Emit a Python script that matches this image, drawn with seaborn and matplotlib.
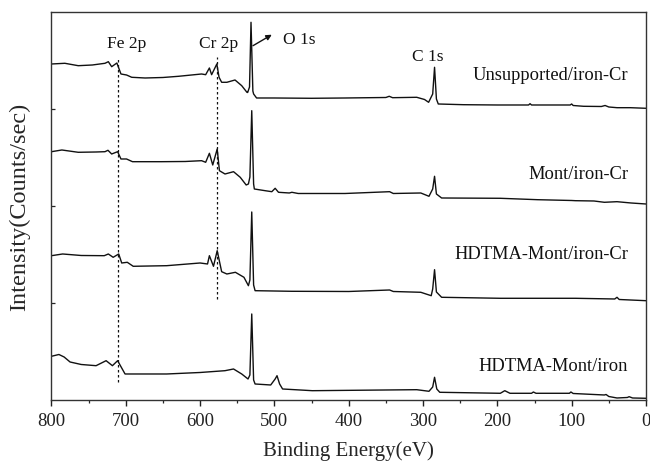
import matplotlib
matplotlib.use("Agg")
import matplotlib.pyplot as plt
from matplotlib.ticker import MultipleLocator, NullFormatter
import pandas as pd
import seaborn as sns

# XPS survey spectra, binding energy (eV) vs stacked intensity (a.u.)
be_unsup = [800, 782, 764, 745, 728, 723.5, 719, 712, 706.5, 699, 692, 674, 650, 629,
            598, 592.5, 587.5, 584.5, 577.5, 574.5, 571, 564, 553, 544, 537, 536, 533.5,
            531.5, 529, 528, 524, 500, 450, 405, 350, 345.5, 341, 308.5, 298, 292.5, 287,
            284.5, 282, 279.5, 246, 200, 158, 156, 154, 102, 100, 98, 84, 60, 55, 50, 39,
            21, 0]
int_unsup = [336, 336.7, 334.3, 335, 336.7, 338.3, 333.3, 337, 326, 325, 322.7, 322, 322.5,
             323.7, 326, 325.3, 332, 325.3, 336, 322.7, 317.7, 317.7, 320, 314.3, 307.7,
             307.5, 313, 377.7, 309, 306, 302, 302, 301.7, 302, 302.5, 303.7, 302.3, 302.7,
             300.5, 297.7, 306, 332.7, 301, 296, 295.3, 295, 295, 296.3, 295, 295, 296,
             294.5, 293.7, 293.5, 294.5, 293, 292.3, 292.3, 291.7]

be_mont = [800, 786, 764, 740, 728, 724, 719, 711, 706.5, 699, 691, 652, 620, 598, 592.5,
           587.5, 583, 577, 574, 566.5, 555, 546, 538, 535, 533, 530.5, 528, 527, 512.5,
           503.5, 499, 494.5, 480, 476.5, 468, 405, 345, 340, 303, 292, 287, 284.5, 282,
           275, 196, 146, 100, 95, 70, 56, 39, 20, 0]
int_mont = [248.3, 250, 247.7, 248, 248.3, 249.7, 246, 248.3, 241, 241, 238.3, 238.3, 238.5,
            239.3, 237.7, 246.7, 235, 251, 229.3, 226, 228.3, 222.7, 215, 216, 223, 289.3,
            216, 211, 209.3, 208.3, 211.7, 207.7, 207, 207.7, 206.5, 206.5, 208.3, 206.5,
            207, 203.7, 211, 223.7, 206, 202, 201.7, 200.3, 199.5, 199.3, 199, 197.7,
            198.3, 197, 196]

be_hdtma_cr = [800, 785, 760, 729, 723.5, 717, 709.5, 705.5, 698, 690, 645, 600, 590,
               587.5, 582, 577, 571, 564, 552.5, 541, 535, 533, 530.5, 528, 526, 477, 400,
               345, 340, 303, 289, 287, 284.5, 282, 275, 196, 95, 42, 39, 36, 0]
int_hdtma_cr = [144.3, 146, 144.5, 144.3, 146, 142.7, 146, 137, 137.7, 133.7, 134.3, 137,
                136, 144.3, 133.7, 149.3, 128.3, 126, 127.7, 122.7, 114.3, 120, 188, 115,
                109.3, 108.7, 108.5, 110, 108.5, 107.7, 104.3, 111, 130.3, 108, 102.7,
                101.7, 101.7, 101, 102.7, 100.5, 99.3]

be_hdtma = [800, 790, 783, 775, 760, 740, 726.5, 718, 711, 701, 645, 600, 566.5, 555, 544,
            535.5, 533, 530.5, 528, 526, 505, 499, 496.5, 493, 489, 449, 308.5, 292, 287,
            284.5, 281.5, 277.5, 196, 190, 183, 154, 151.5, 148, 103, 101, 98, 56, 53.7,
            50, 39, 25, 22.7, 18, 0]
int_hdtma = [43.7, 45.5, 43, 38, 35.5, 34.3, 39.3, 34.3, 39.3, 26, 26, 27.5, 29.3, 31, 26,
             21, 25, 86, 20, 16, 15, 21, 24.3, 16, 11, 9.3, 10.3, 8.7, 13, 22.7, 11, 7.7,
             6.7, 9.3, 6.7, 6.7, 8, 6.7, 6.7, 8, 6.5, 5, 5.5, 3.5, 2, 2.5, 3.3, 2, 1.7]

sample_names = ["Unsupported/iron-Cr", "Mont/iron-Cr", "HDTMA-Mont/iron-Cr", "HDTMA-Mont/iron"]
sample_label_y = [325, 226, 146, 34]

peak_names = ["Fe 2p", "Cr 2p", "O 1s", "C 1s"]
peak_label_x = [698.5, 575.5, 488, 294]
peak_label_y = [356.7, 356.7, 361, 344.3]

fe_line_x, fe_line_y = 711, (18, 343)
cr_line_x, cr_line_y = 577, (101, 343)

series = [(be_unsup, int_unsup), (be_mont, int_mont),
          (be_hdtma_cr, int_hdtma_cr), (be_hdtma, int_hdtma)]
frames = []
for name, (be, it) in zip(sample_names, series):
    frames.append(pd.DataFrame({"BE": be, "I": it, "sample": name}))
df = pd.concat(frames, ignore_index=True)

sns.set_theme(style="ticks")
plt.rcParams["font.family"] = ["Liberation Serif", "DejaVu Serif"]
plt.rcParams["axes.linewidth"] = 1.0

fig = plt.figure(figsize=(6.5, 4.64), dpi=100)
ax = fig.add_axes([0.0792, 0.1358, 0.9146, 0.8362])

for name in sample_names:
    sub = df[df["sample"] == name]
    sns.lineplot(data=sub, x="BE", y="I", ax=ax, color="#111111", lw=1.0,
                 estimator=None, sort=False, legend=False)

ax.plot([fe_line_x, fe_line_x], fe_line_y, color="#111111", lw=0.9, ls=(0, (2, 2)))
ax.plot([cr_line_x, cr_line_x], cr_line_y, color="#111111", lw=0.9, ls=(0, (2, 2)))

ax.set_xlim(800, 0)
ax.set_ylim(0, 388)

ax.xaxis.set_major_locator(MultipleLocator(100))
ax.xaxis.set_minor_locator(MultipleLocator(50))
ax.set_yticks([97, 194, 291])
ax.yaxis.set_major_formatter(NullFormatter())
ax.tick_params(axis="x", which="major", direction="out", length=4, width=1.0,
               labelsize=13.5, pad=4.5, colors="#222222")
ax.tick_params(axis="x", which="minor", direction="out", length=2.5, width=0.9)
ax.tick_params(axis="y", which="major", direction="in", length=3, width=0.9)

for sp in ax.spines.values():
    sp.set_color("#333333")
    sp.set_visible(True)

ax.set_xlabel("Binding Energy(eV)", fontsize=15, labelpad=8)
ax.set_ylabel("Intensity(Counts/sec)", fontsize=17.5, labelpad=12)

for name, yv in zip(sample_names, sample_label_y):
    ax.text(24, yv, name, ha="right", va="center", fontsize=13.3, color="#111111")

for name, xv, yv in zip(peak_names, peak_label_x, peak_label_y):
    ha = "left" if name == "O 1s" else "center"
    ax.text(xv, yv, name, ha=ha, va="center", fontsize=12.5, color="#111111")

ax.annotate("", xy=(503.5, 365.3), xytext=(528.8, 354.3),
            arrowprops=dict(arrowstyle="-|>", lw=1.0, color="#111111",
                            mutation_scale=8, shrinkA=0, shrinkB=0))

fig.savefig("out.png", dpi=100)
